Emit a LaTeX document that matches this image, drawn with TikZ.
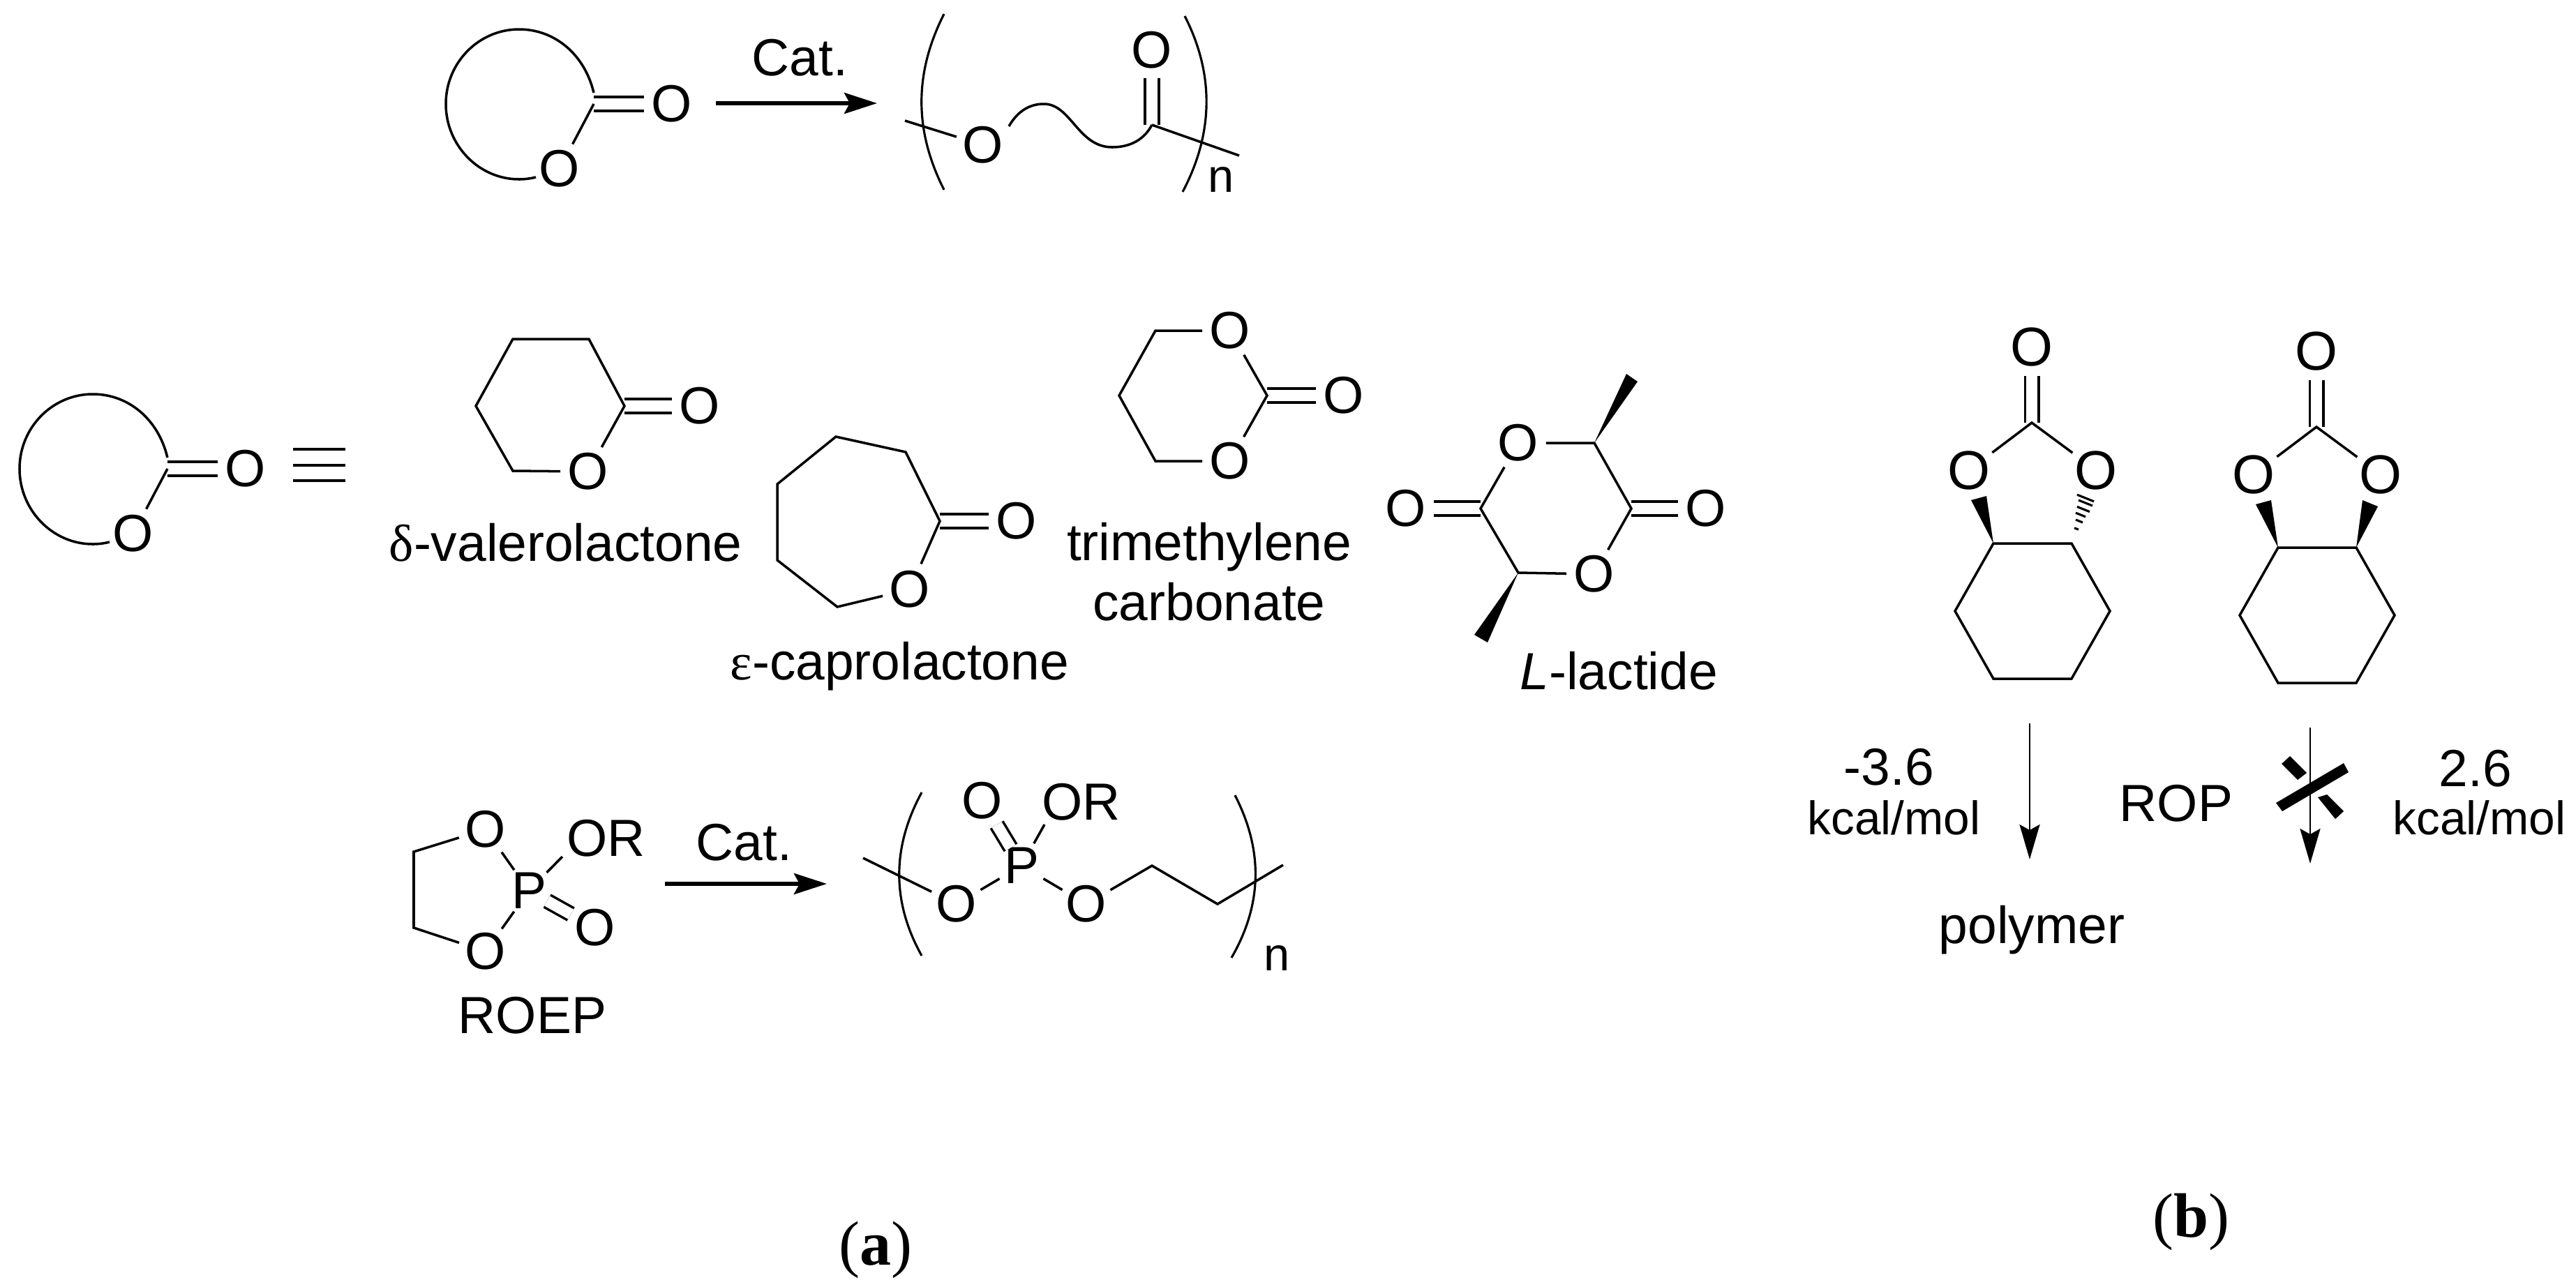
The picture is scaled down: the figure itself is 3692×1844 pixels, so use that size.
\documentclass[tikz,border=0pt]{standalone}
\usepackage{fontspec}
\setmainfont{Liberation Sans}
\newfontfamily\capfont{Liberation Serif}
\usetikzlibrary{arrows.meta}
\tikzset{
    bond/.style={line width=1pt},
    dbond/.style={double, double distance=0.16cm, line width=1pt},
    atom/.style={circle, inner sep=0pt, minimum size=0.74cm, font=\fontsize{21.3}{25}\selectfont},
    patom/.style={atom, minimum size=0.7cm},
    txt/.style={anchor=base west, inner sep=0pt, font=\fontsize{21.3}{24.5}\selectfont},
    small/.style={txt, font=\fontsize{19.2}{22}\selectfont},
    rxn/.style={line width=1.6pt, -{Stealth[length=0.47cm, width=0.3cm, inset=0.08cm]}},
    drop/.style={line width=0.8pt, -{Stealth[length=0.5cm, width=0.29cm, inset=0.08cm]}},
    brak/.style={line width=0.9pt},
    hash/.style={line width=0.9pt}
}
\begin{document}
\begin{tikzpicture}[x=0.01cm, y=-0.01cm]
    \useasboundingbox (0,0) rectangle (3692,1844);

    % generic lactone, twice
    \foreach \dx/\dy/\nm in {0/0/top, -611/523/mid} {
        \begin{scope}[shift={(\dx,\dy)}]
            \coordinate (c\nm) at (851,149);
            \node[atom] (oa\nm) at (963,149) {O};
            \node[atom] (ob\nm) at (802,242) {O};
            \draw[dbond] (c\nm) -- (oa\nm);
            \draw[bond] (c\nm) -- (ob\nm);
            \draw[bond] (851,133) .. controls (838,78) and (795,42) .. (744,42)
                .. controls (686,42) and (639,90) .. (639,149)
                .. controls (639,208) and (686,257) .. (744,257)
                .. controls (752,257) and (760,256) .. (768,254);
        \end{scope}
    }

    % top reaction
    \node[txt] (cat1) at (1077,108) {Cat.};
    \coordinate (rxn1a) at (1026,148);
    \coordinate (rxn1b) at (1257,148);
    \draw[rxn] (rxn1a) -- (rxn1b);
    \draw[brak] (1353,20) .. controls (1310,105) and (1310,187) .. (1353,272);
    \draw[brak] (1698,23) .. controls (1740,105) and (1740,190) .. (1695,275);
    \node[txt, font=\fontsize{19}{22}\selectfont] (n1) at (1731,275) {n};
    \node[atom] (polyo) at (1409,208) {O};
    \node[atom] (polyco) at (1651,72) {O};
    \coordinate (polyc) at (1651,179);
    \coordinate (polyl) at (1297,173);
    \coordinate (polyr) at (1776,223);
    \draw[dbond] (polyc) -- (polyco);
    \draw[bond] (polyl) -- (polyo);
    \draw[bond] (polyc) -- (polyr);
    \draw[bond] (1446,181) .. controls (1458,160) and (1475,149) .. (1496,149)
        .. controls (1535,149) and (1545,211) .. (1594,211)
        .. controls (1620,211) and (1640,200) .. (polyc);

    % triple bar
    \coordinate (eqa) at (420,644);
    \coordinate (eqb) at (495,644);
    \coordinate (eqc) at (420,667);
    \coordinate (eqd) at (495,667);
    \coordinate (eqe) at (420,689);
    \coordinate (eqf) at (495,689);
    \draw[line width=1.4pt] (eqa) -- (eqb) (eqc) -- (eqd) (eqe) -- (eqf);

    % valerolactone
    \coordinate (valc) at (895,582);
    \node[atom] (valo) at (843,676) {O};
    \node[atom] (valco) at (1003,582) {O};
    \draw[dbond] (valc) -- (valco);
    \draw[bond] (valo) -- (735,675) -- (682,582) -- (735,486) -- (844,486) -- (valc) -- (valo);
    \node[txt] (vallab) at (557,804) {{\capfont δ}-valerolactone};

    % caprolactone
    \coordinate (capc) at (1347,747);
    \node[atom] (capo) at (1304,845) {O};
    \node[atom] (capco) at (1457,747) {O};
    \draw[dbond] (capc) -- (capco);
    \draw[bond] (capo) -- (1200,870) -- (1114,803) -- (1114,694) -- (1198,626) -- (1298,648) -- (capc) -- (capo);
    \node[txt] (caplab) at (1046,974) {{\capfont ε}-caprolactone};

    % carbonate
    \coordinate (tmcc) at (1816,567);
    \node[atom] (tmca) at (1763,474) {O};
    \node[atom] (tmcb) at (1763,661) {O};
    \node[atom] (tmco) at (1926,567) {O};
    \draw[dbond] (tmcc) -- (tmco);
    \draw[bond] (tmca) -- (1656,474) -- (1604,567) -- (1656,661) -- (tmcb);
    \draw[bond] (tmca) -- (tmcc) -- (tmcb);
    \node[txt, anchor=center, align=center] (tmclab) at (1733,820) {trimethylene\\carbonate};

    % lactide
    \coordinate (laca) at (2285,635);
    \coordinate (lacb) at (2338,729);
    \coordinate (lacc) at (2176,821);
    \coordinate (lacd) at (2122,729);
    \node[atom] (laco1) at (2176,635) {O};
    \node[atom] (laco2) at (2285,823) {O};
    \node[atom] (laco3) at (2445,729) {O};
    \node[atom] (laco4) at (2015,729) {O};
    \draw[dbond] (lacb) -- (laco3);
    \draw[dbond] (lacd) -- (laco4);
    \draw[bond] (laco1) -- (laca) -- (lacb) -- (laco2) -- (lacc) -- (lacd) -- (laco1);
    \fill (laca) -- (2331,536) -- (2347,547) -- cycle;
    \fill (lacc) -- (2113,910) -- (2132,921) -- cycle;
    \node[txt] (laclab) at (2178,988) {\textit{L}-lactide};

    % ROEP
    \node[atom] (roa) at (696,1189) {O};
    \node[atom] (rob) at (696,1364) {O};
    \node[atom] (roc) at (853,1330) {O};
    \node[patom] (rop) at (758,1277) {P};
    \node[txt] (ror) at (812,1227) {OR};
    \coordinate (rorend) at (806,1228);
    \draw[dbond, shorten <=0.3cm] (rop.center) -- (roc);
    \draw[bond] (roa) -- (593,1221) -- (593,1330) -- (rob);
    \draw[bond] (roa) -- (rop) -- (rob);
    \draw[bond] (rop) -- (rorend);
    \node[txt] (roeplab) at (656,1481) {ROEP};

    % lower reaction
    \node[txt] (cat2) at (997,1233) {Cat.};
    \coordinate (rxn2a) at (953,1267);
    \coordinate (rxn2b) at (1185,1267);
    \draw[rxn] (rxn2a) -- (rxn2b);
    \draw[brak] (1321,1136) .. controls (1278,1215) and (1278,1293) .. (1321,1370);
    \draw[brak] (1770,1140) .. controls (1810,1218) and (1810,1295) .. (1765,1373);
    \node[txt, font=\fontsize{19}{22}\selectfont] (n2) at (1811,1391) {n};
    \node[atom] (peo1) at (1371,1296) {O};
    \node[atom] (peo2) at (1557,1296) {O};
    \node[atom] (peo3) at (1408,1148) {O};
    \node[patom] (pep) at (1464,1241) {P};
    \node[txt] (peor) at (1493,1175) {OR};
    \coordinate (peorend) at (1497,1182);
    \coordinate (pel) at (1237,1230);
    \coordinate (per) at (1839,1240);
    \draw[dbond, shorten <=0.3cm] (pep.center) -- (peo3);
    \draw[bond] (pel) -- (peo1) -- (pep) -- (peo2) -- (1651,1241) -- (1745,1296) -- (per);
    \draw[bond] (pep) -- (peorend);

    % cyclic carbonates (b)
    \foreach \dx/\dy/\nm in {0/0/trans, 408/6/cis} {
        \begin{scope}[shift={(\dx,\dy)}]
            \coordinate (cc\nm) at (2912,606);
            \node[atom, font=\fontsize{22.3}{26}\selectfont] (ct\nm) at (2912,497) {O};
            \node[atom, font=\fontsize{22.3}{26}\selectfont] (cl\nm) at (2822,674) {O};
            \node[atom, font=\fontsize{22.3}{26}\selectfont] (cr\nm) at (3004,674) {O};
            \draw[dbond] (cc\nm) -- (ct\nm);
            \draw[bond] (cl\nm) -- (cc\nm) -- (cr\nm);
            \draw[bond] (2857,779) -- (2969,779) -- (3024,876) -- (2969,973) -- (2857,973) -- (2802,876) -- cycle;
            \fill (2857,779) -- (2825,717) -- (2847,711) -- cycle;
        \end{scope}
    }
    \fill (3377,785) -- (3386,717) -- (3408,726) -- cycle;
    \foreach \cx/\cy/\hw in {2976/758/3, 2980/747/5, 2982/738/7, 2986/730/9, 2989/721/10, 2989/714/12} {
        \draw[hash] ({\cx-\hw},{\cy-0.4*\hw}) -- ({\cx+\hw},{\cy+0.4*\hw});
    }

    % ROP arrows
    \coordinate (drop1a) at (2909,1037);
    \coordinate (drop1b) at (2909,1232);
    \coordinate (drop2a) at (3311,1043);
    \coordinate (drop2b) at (3311,1238);
    \draw[drop] (drop1a) -- (drop1b);
    \draw[drop] (drop2a) -- (drop2b);
    \fill (3359,1094) -- (3366,1107) -- (3271,1163) -- (3262,1151) -- cycle;
    \fill (3270,1095) -- (3282,1084) -- (3306,1108) -- (3293,1118) -- cycle;
    \fill (3322,1143) -- (3335,1139) -- (3359,1163) -- (3347,1174) -- cycle;

    \node[txt] (dg1) at (2642,1125) {-3.6};
    \node[small] (kcal1) at (2590,1196) {kcal/mol};
    \node[txt] (dg2) at (3495,1127) {2.6};
    \node[small] (kcal2) at (3429,1196) {kcal/mol};
    \node[txt] (roplab) at (3037,1177) {ROP};
    \node[txt] (polylab) at (2778,1352) {polymer};

    \node[txt, font=\capfont\fontsize{25.6}{30}\selectfont] (capa) at (1202,1813) {(\textbf{a})};
    \node[txt, font=\capfont\fontsize{25.6}{30}\selectfont] (capb) at (3085,1773) {(\textbf{b})};
\end{tikzpicture}
\end{document}
